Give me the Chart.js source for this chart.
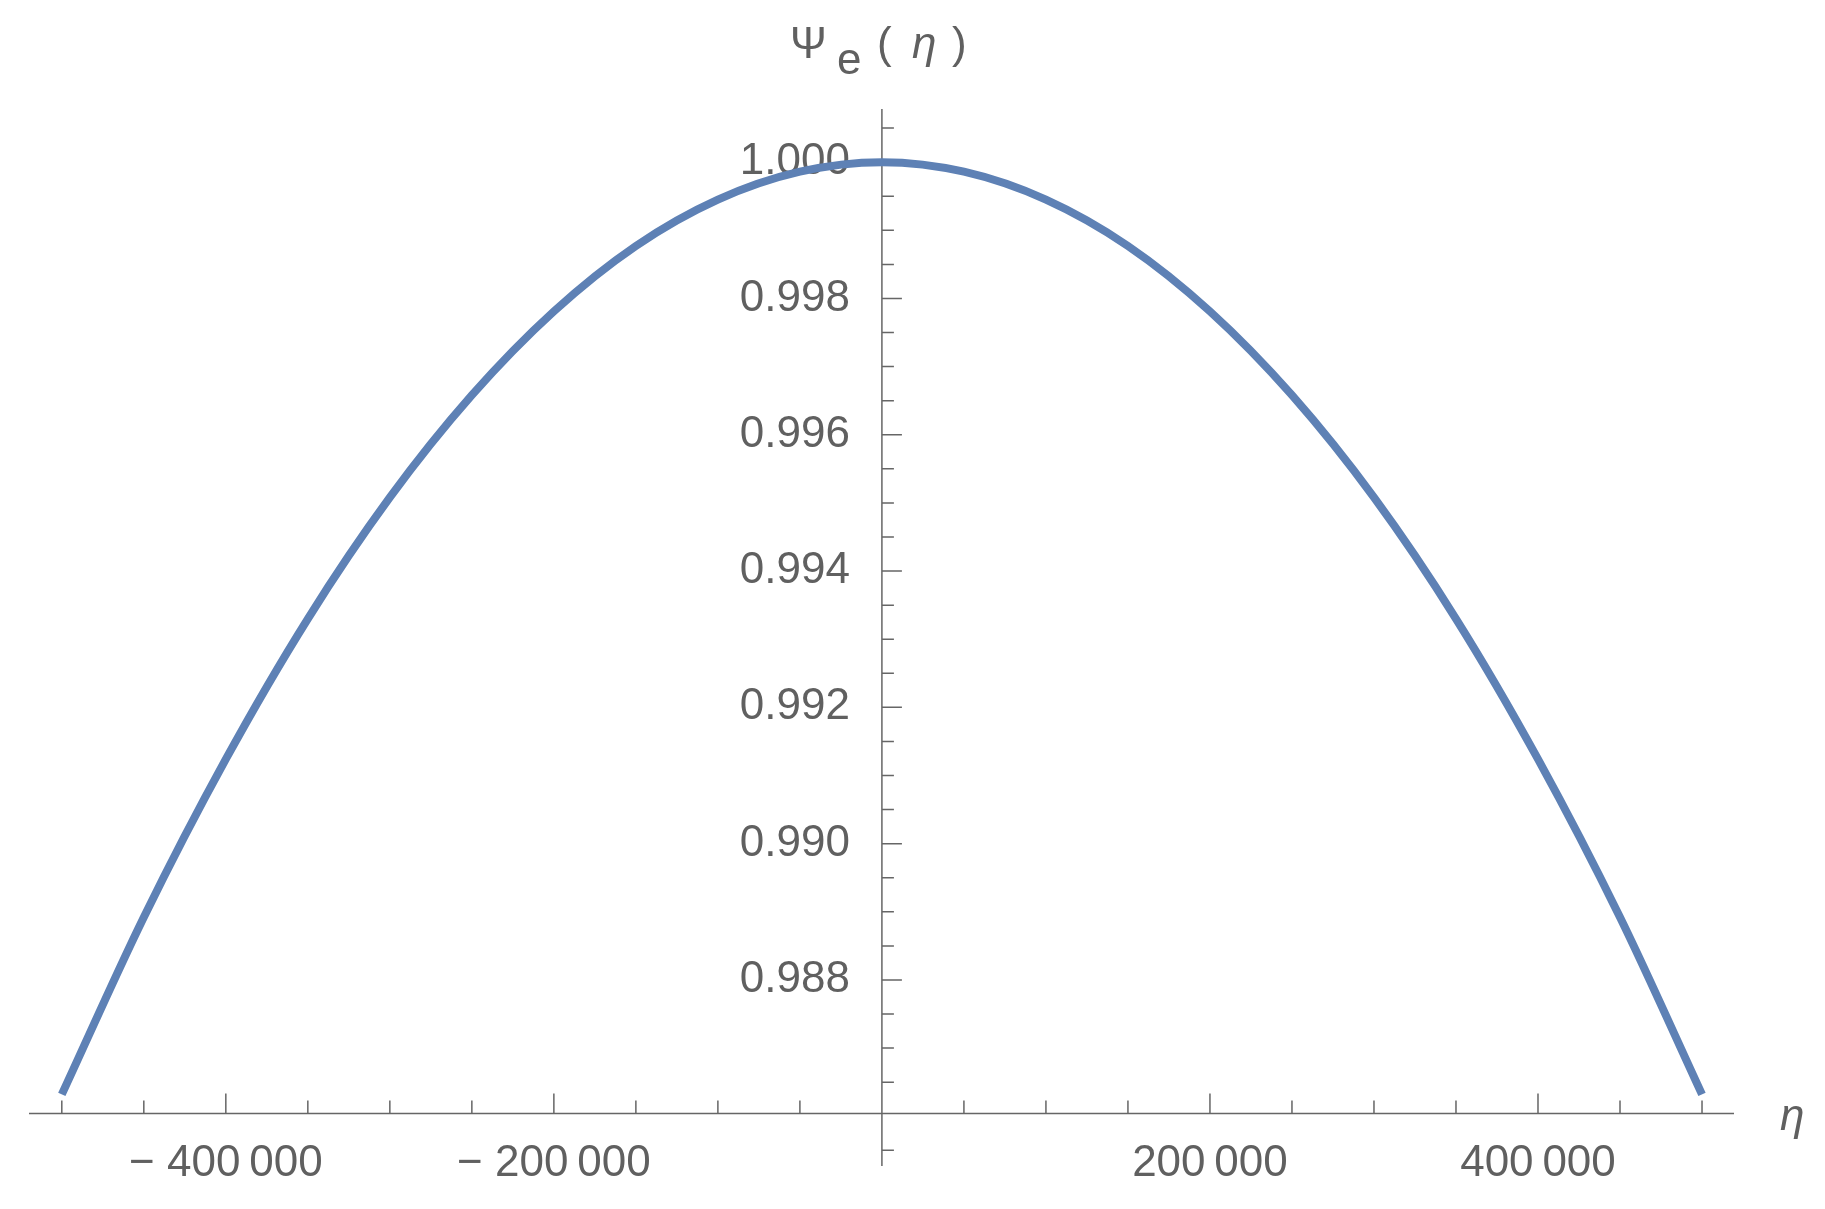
<!DOCTYPE html>
<html>
<head>
<meta charset="utf-8">
<script src="https://cdn.jsdelivr.net/npm/chart.js@4"></script>
<style>
  html, body { margin: 0; padding: 0; background: #fff; overflow: hidden; }
  canvas { display: block; }
</style>
</head>
<body>
<canvas id="psiChart" width="1825" height="1209"></canvas>
<script>
// eta values and Psi_e(eta)
const etaValues = [-500000, -450000, -400000, -350000, -300000, -250000, -200000, -150000, -100000, -50000, 0,
                   50000, 100000, 150000, 200000, 250000, 300000, 350000, 400000, 450000, 500000];
const psiValues = [0.98632, 0.98892, 0.99124, 0.99330, 0.99508, 0.99658, 0.99781, 0.99877, 0.99945, 0.99986, 1.00000,
                   0.99986, 0.99945, 0.99877, 0.99781, 0.99658, 0.99508, 0.99330, 0.99124, 0.98892, 0.98632];

const xMajorTicks = [-400000, -200000, 200000, 400000];
const xMajorLabels = ['\u2212 400\u2009000', '\u2212 200\u2009000', '200\u2009000', '400\u2009000'];
const xMinorTicks = [-500000, -450000, -350000, -300000, -250000, -150000, -100000, -50000,
                     50000, 100000, 150000, 250000, 300000, 350000, 450000, 500000];
const yMajorTicks = [0.988, 0.990, 0.992, 0.994, 0.996, 0.998, 1.000];
const yMajorLabels = ['0.988', '0.990', '0.992', '0.994', '0.996', '0.998', '1.000'];
const yMinorTicks = [0.9855, 0.9865, 0.9870, 0.9875, 0.9885, 0.9890, 0.9895, 0.9905, 0.9910, 0.9915,
                     0.9925, 0.9930, 0.9935, 0.9945, 0.9950, 0.9955, 0.9965, 0.9970, 0.9975,
                     0.9985, 0.9990, 0.9995, 1.0005];

const axisColor = '#666666';
const textColor = '#606060';
const axisOriginY = 0.98604;

// draws Mathematica-style crossing axes using the chart scales
const axesPlugin = {
    id: 'crossAxes',
    beforeDatasetsDraw(chart) {
        const ctx = chart.ctx;
        const xs = chart.scales.x;
        const ys = chart.scales.y;
        const x0 = xs.getPixelForValue(0);
        const y0 = ys.getPixelForValue(axisOriginY);
        ctx.save();
        ctx.strokeStyle = axisColor;
        ctx.lineWidth = 1.5;
        ctx.beginPath();
        ctx.moveTo(xs.left, y0); ctx.lineTo(xs.right, y0);
        ctx.moveTo(x0, ys.top); ctx.lineTo(x0, ys.bottom);
        xMajorTicks.forEach(v => { const p = xs.getPixelForValue(v); ctx.moveTo(p, y0); ctx.lineTo(p, y0 - 20); });
        xMinorTicks.forEach(v => { const p = xs.getPixelForValue(v); ctx.moveTo(p, y0); ctx.lineTo(p, y0 - 13); });
        yMajorTicks.forEach(v => { const p = ys.getPixelForValue(v); ctx.moveTo(x0, p); ctx.lineTo(x0 + 20, p); });
        yMinorTicks.forEach(v => { const p = ys.getPixelForValue(v); ctx.moveTo(x0, p); ctx.lineTo(x0 + 12, p); });
        ctx.stroke();

        ctx.fillStyle = textColor;
        ctx.font = '44px "Liberation Sans", Arial, sans-serif';
        ctx.textAlign = 'center';
        ctx.textBaseline = 'middle';
        xMajorTicks.forEach((v, i) => ctx.fillText(xMajorLabels[i], xs.getPixelForValue(v), y0 + 50));
        ctx.textAlign = 'right';
        yMajorTicks.forEach((v, i) => ctx.fillText(yMajorLabels[i], x0 - 32, ys.getPixelForValue(v)));

        // axis labels
        ctx.textAlign = 'left';
        ctx.fillText('\u03A8', 790, 46);
        ctx.fillText('e', 837, 62);
        ctx.fillText('(', 877, 46);
        ctx.fillText(')', 952, 46);
        ctx.font = 'italic 44px "Liberation Sans", Arial, sans-serif';
        ctx.fillText('\u03B7', 912, 46);
        ctx.fillText('\u03B7', 1780, 1118);
        ctx.restore();
    }
};

new Chart(document.getElementById('psiChart'), {
    type: 'line',
    data: {
        labels: etaValues,
        datasets: [{
            data: etaValues.map((x, i) => ({ x: x, y: psiValues[i] })),
            borderColor: '#5e81b5',
            borderWidth: 8,
            pointRadius: 0,
            cubicInterpolationMode: 'monotone',
            fill: false,
            borderCapStyle: 'butt'
        }]
    },
    options: {
        responsive: false,
        animation: false,
        devicePixelRatio: 1,
        layout: { padding: { left: 29, right: 91, top: 109, bottom: 43 } },
        plugins: { legend: { display: false }, tooltip: { enabled: false } },
        scales: {
            x: { type: 'linear', min: -520000, max: 519500, display: false },
            y: { type: 'linear', min: 0.98527, max: 1.00078, display: false }
        }
    },
    plugins: [axesPlugin]
});
</script>
</body>
</html>
